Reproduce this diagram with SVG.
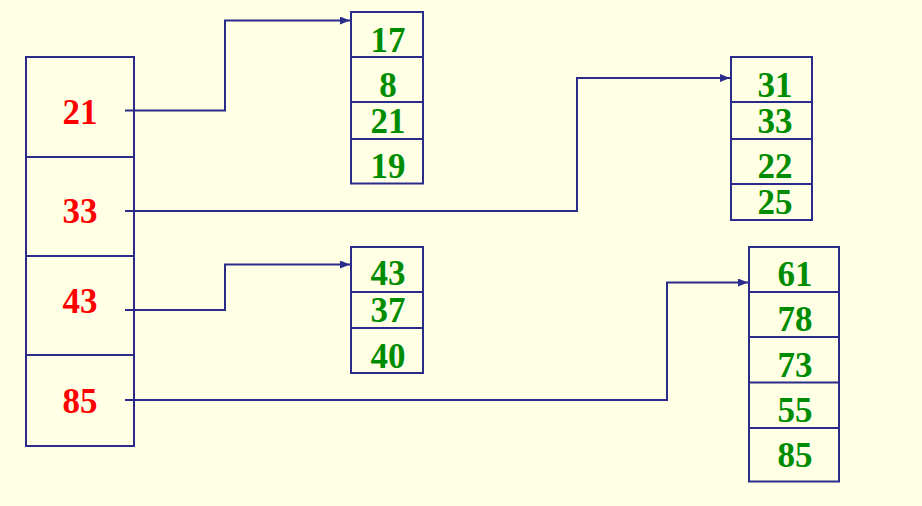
<svg xmlns="http://www.w3.org/2000/svg" width="922" height="506" viewBox="0 0 922 506">
<defs>
<style>
.box{fill:none;stroke:#2B2B8C;stroke-width:2}
.div{stroke:#2B2B8C;stroke-width:2}
.conn{fill:none;stroke:#2B2B8C;stroke-width:2}
.r{font-family:"Liberation Serif",serif;font-weight:bold;font-size:35px;fill:#FF0000;text-anchor:middle}
.g{font-family:"Liberation Serif",serif;font-weight:bold;font-size:35px;fill:#008C00;text-anchor:middle}
</style>
<marker id="ah" markerWidth="10" markerHeight="8" refX="10" refY="4" orient="auto" markerUnits="userSpaceOnUse">
<path d="M0,0 L10,4 L0,8 Z" fill="#2B2B8C"/>
</marker>
</defs>
<rect width="922" height="506" fill="#FFFFE6"/>
<g id="hash-table">
<rect class="box" x="26" y="57" width="108" height="389"/>
<line class="div" x1="26" y1="157" x2="134" y2="157"/>
<line class="div" x1="26" y1="256" x2="134" y2="256"/>
<line class="div" x1="26" y1="355" x2="134" y2="355"/>
<text class="r" x="80" y="124">21</text>
<text class="r" x="80" y="223">33</text>
<text class="r" x="80" y="313">43</text>
<text class="r" x="80" y="413">85</text>
</g>
<g id="bucket-21">
<rect class="box" x="351" y="12" width="72" height="171.5"/>
<line class="div" x1="351" y1="57" x2="423" y2="57"/>
<line class="div" x1="351" y1="102" x2="423" y2="102"/>
<line class="div" x1="351" y1="139" x2="423" y2="139"/>
<text class="g" x="388" y="52">17</text>
<text class="g" x="388" y="97">8</text>
<text class="g" x="388" y="133">21</text>
<text class="g" x="388" y="178">19</text>
</g>
<g id="bucket-33">
<rect class="box" x="731" y="57" width="81" height="163"/>
<line class="div" x1="731" y1="102" x2="812" y2="102"/>
<line class="div" x1="731" y1="139" x2="812" y2="139"/>
<line class="div" x1="731" y1="184" x2="812" y2="184"/>
<text class="g" x="775" y="97">31</text>
<text class="g" x="775" y="132.5">33</text>
<text class="g" x="775" y="177.5">22</text>
<text class="g" x="775" y="213.5">25</text>
</g>
<g id="bucket-43">
<rect class="box" x="351" y="247" width="72" height="126"/>
<line class="div" x1="351" y1="292" x2="423" y2="292"/>
<line class="div" x1="351" y1="328" x2="423" y2="328"/>
<text class="g" x="388" y="285">43</text>
<text class="g" x="388" y="322">37</text>
<text class="g" x="388" y="368">40</text>
</g>
<g id="bucket-85">
<rect class="box" x="749" y="247" width="90" height="234.5"/>
<line class="div" x1="749" y1="292" x2="839" y2="292"/>
<line class="div" x1="749" y1="337" x2="839" y2="337"/>
<line class="div" x1="749" y1="382.5" x2="839" y2="382.5"/>
<line class="div" x1="749" y1="428" x2="839" y2="428"/>
<text class="g" x="795" y="286">61</text>
<text class="g" x="795" y="331">78</text>
<text class="g" x="795" y="377">73</text>
<text class="g" x="795" y="422">55</text>
<text class="g" x="795" y="467">85</text>
</g>
<g id="connectors">
<polyline class="conn" points="125,110.5 225,110.5 225,20.5 350,20.5" marker-end="url(#ah)"/>
<polyline class="conn" points="125,211 577,211 577,78 730,78" marker-end="url(#ah)"/>
<polyline class="conn" points="125,310 225,310 225,264.5 350,264.5" marker-end="url(#ah)"/>
<polyline class="conn" points="125,400 667,400 667,282.5 748,282.5" marker-end="url(#ah)"/>
</g>
</svg>
